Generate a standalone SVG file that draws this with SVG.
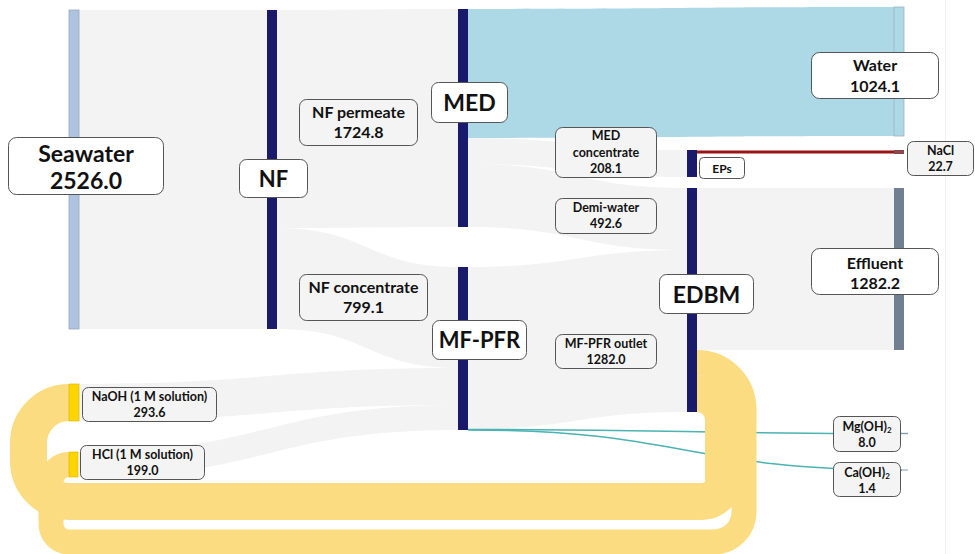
<svg xmlns="http://www.w3.org/2000/svg" width="975" height="554" viewBox="0 0 975 554">
<style>
text{font-family:Lato,"Open Sans","Liberation Sans",sans-serif;font-weight:bold;fill:#111;text-anchor:middle}
.lk{fill:#f3f3f3}
.big{font-size:23px}
.mid{font-size:16px}
.sm{font-size:12.5px}
.bx{fill:#ffffff;stroke:#555;stroke-width:1}
.bxg{fill:#f4f4f4;stroke:#555;stroke-width:1}
.nv{fill:#1a1a6c}
.loop{fill:none;stroke:#fbdc80}
.teal{fill:none;stroke:#4bb3b3;stroke-width:1.5}
</style>
<rect x="0" y="0" width="975" height="554" fill="#ffffff"/>
<line x1="945.5" y1="0" x2="945.5" y2="554" stroke="#f0f0f0" stroke-width="1"/>
<g id="connectors">
  <path class="lk" d="M79 10 H267 V329 H79 Z"/>
  <path class="lk" d="M277 10 C367.5 10 367.5 9 458 9 L458 227 C367.5 227 367.5 228 277 228 Z"/>
  <path class="lk" d="M277 228 C367.5 228 367.5 267 458 267 L458 368 C367.5 368 367.5 329 277 329 Z"/>
  <path class="lk" d="M79 384 C268.5 384 268.5 368 458 368 L458 405 C268.5 405 268.5 421 79 421 Z"/>
  <path class="lk" d="M79 452 C268.5 452 268.5 405 458 405 L458 430 C268.5 430 268.5 477 79 477 Z"/>
  <path d="M468 9 C681 9 681 7 894 7 L894 136 C681 136 681 138 468 138 Z" fill="#add8e6"/>
  <path class="lk" d="M468 138 C577.5 138 577.5 150 687 150 L687 177 C577.5 177 577.5 164 468 164 Z"/>
  <path class="lk" d="M468 164 C577.5 164 577.5 188 687 188 L687 250 C577.5 250 577.5 227 468 227 Z"/>
  <path class="lk" d="M468 267 C577.5 267 577.5 250 687 250 L687 412 C577.5 412 577.5 429 468 429 Z"/>
  <path class="lk" d="M697 188 H894 V350 H697 Z"/>
  <rect x="697" y="150.5" width="197" height="3" fill="#9b1414"/>
  <path class="teal" d="M468 429.5 C685 429.5 685 433.5 902 433.5"/>
  <path class="teal" d="M468 430 C685 430 685 470 902 470"/>
  <path class="loop" stroke-width="37" d="M697 393.5 A26.5 26.5 0 0 1 723.5 420 V480 A21.5 21.5 0 0 1 702 501.5 H69 A40.5 40.5 0 0 1 28.5 461 V443 A40.5 40.5 0 0 1 69 402.5"/>
  <path class="loop" stroke-width="25" d="M697 362.5 A47 47 0 0 1 744 409.5 V512 A30 30 0 0 1 714 542 H69 A18 18 0 0 1 51 524 V482.5 A18 18 0 0 1 69 464.5"/>
</g>
<g id="seawater">
  <rect x="69" y="10" width="10" height="319" fill="#aec3df" stroke="#98a9bf" stroke-width="0.8"/>
  <rect class="bx" x="8.5" y="137.5" width="155" height="57" rx="8"/>
  <text class="big" x="86" y="162">Seawater</text>
  <text class="big" x="86" y="189">2526.0</text>
</g>
<g id="nf">
  <rect class="nv" x="267" y="10" width="10" height="319"/>
  <rect class="bx" x="239.5" y="159.5" width="68" height="38" rx="7"/>
  <text class="big" x="273.5" y="187" style="font-size:22px">NF</text>
</g>
<g id="nf-permeate">
  <rect class="bxg" x="299.5" y="99.5" width="118" height="46" rx="7"/>
  <text class="mid" x="358.5" y="118">NF permeate</text>
  <text class="mid" x="358.5" y="138">1724.8</text>
</g>
<g id="med">
  <rect class="nv" x="458" y="9" width="10" height="218"/>
  <rect class="bx" x="431.5" y="82.5" width="76" height="40" rx="7"/>
  <text class="big" x="469.5" y="111">MED</text>
</g>
<g id="nf-concentrate">
  <rect class="bxg" x="299.5" y="274.5" width="128" height="46" rx="7"/>
  <text class="mid" x="363.5" y="293">NF concentrate</text>
  <text class="mid" x="363.5" y="313">799.1</text>
</g>
<g id="mf-pfr">
  <rect class="nv" x="458" y="267" width="10" height="163"/>
  <rect class="bx" x="432.5" y="320.5" width="94" height="39" rx="7"/>
  <text class="big" x="479.5" y="348" style="font-size:22px">MF-PFR</text>
</g>
<g id="naoh">
  <rect x="69" y="384" width="10" height="37" fill="#ffd500" stroke="#d9b400" stroke-width="0.6"/>
  <rect class="bxg" x="82.5" y="387.5" width="134" height="34" rx="6"/>
  <text class="sm" x="149.5" y="401">NaOH (1 M solution)</text>
  <text class="sm" x="149.5" y="417">293.6</text>
</g>
<g id="hcl">
  <rect x="69" y="452" width="9" height="25" fill="#ffd500" stroke="#d9b400" stroke-width="0.6"/>
  <rect class="bxg" x="80.5" y="445.5" width="124" height="34" rx="6"/>
  <text class="sm" x="142.5" y="459">HCl (1 M solution)</text>
  <text class="sm" x="142.5" y="475">199.0</text>
</g>
<g id="med-concentrate">
  <rect class="bxg" x="555.5" y="127.5" width="101" height="50" rx="7"/>
  <text class="sm" x="606" y="140">MED</text>
  <text class="sm" x="606" y="157">concentrate</text>
  <text class="sm" x="606" y="173">208.1</text>
</g>
<g id="demi-water">
  <rect class="bxg" x="555.5" y="198.5" width="101" height="35" rx="7"/>
  <text class="sm" x="606" y="212">Demi-water</text>
  <text class="sm" x="606" y="228">492.6</text>
</g>
<g id="mf-pfr-outlet">
  <rect class="bxg" x="555.5" y="334.5" width="101" height="34" rx="7"/>
  <text class="sm" x="606" y="348">MF-PFR outlet</text>
  <text class="sm" x="606" y="364">1282.0</text>
</g>
<g id="eps">
  <rect class="nv" x="687" y="150" width="10" height="27"/>
  <rect class="bx" x="699.5" y="157.5" width="45" height="21" rx="4"/>
  <text class="sm" x="722" y="173" style="font-size:12px">EPs</text>
</g>
<g id="edbm">
  <rect class="nv" x="687" y="188" width="10" height="224"/>
  <rect class="bx" x="659.5" y="274.5" width="94" height="39" rx="7"/>
  <text class="big" x="706.5" y="303">EDBM</text>
</g>
<g id="water">
  <rect x="894" y="7" width="10" height="129" fill="#add8e6" stroke="#9ab4bd" stroke-width="0.8"/>
  <rect class="bx" x="811.5" y="52.5" width="127" height="46" rx="8"/>
  <text class="mid" x="875" y="71">Water</text>
  <text class="mid" x="875" y="92">1024.1</text>
</g>
<g id="nacl">
  <rect x="894" y="150" width="10" height="4" fill="#8c4848"/>
  <rect class="bxg" x="907.5" y="141.5" width="66" height="34" rx="6"/>
  <text class="sm" x="940.5" y="155">NaCl</text>
  <text class="sm" x="940.5" y="171">22.7</text>
</g>
<g id="effluent">
  <rect x="894" y="188" width="10" height="162" fill="#708090"/>
  <rect class="bx" x="811.5" y="248.5" width="127" height="46" rx="8"/>
  <text class="mid" x="875" y="269">Effluent</text>
  <text class="mid" x="875" y="289">1282.2</text>
</g>
<g id="mgoh2">
  <rect x="902" y="432.8" width="6" height="1.4" fill="#8e9caa"/>
  <rect class="bxg" x="833.5" y="416.5" width="67" height="35" rx="6"/>
  <text class="sm" x="867" y="431">Mg(OH)<tspan font-size="8" dy="2">2</tspan></text>
  <text class="sm" x="867" y="447">8.0</text>
</g>
<g id="caoh2">
  <rect x="902" y="469.5" width="6" height="1" fill="#8e9caa"/>
  <rect class="bxg" x="833.5" y="462.5" width="67" height="34" rx="6"/>
  <text class="sm" x="867" y="477">Ca(OH)<tspan font-size="8" dy="2">2</tspan></text>
  <text class="sm" x="867" y="493">1.4</text>
</g>
</svg>
